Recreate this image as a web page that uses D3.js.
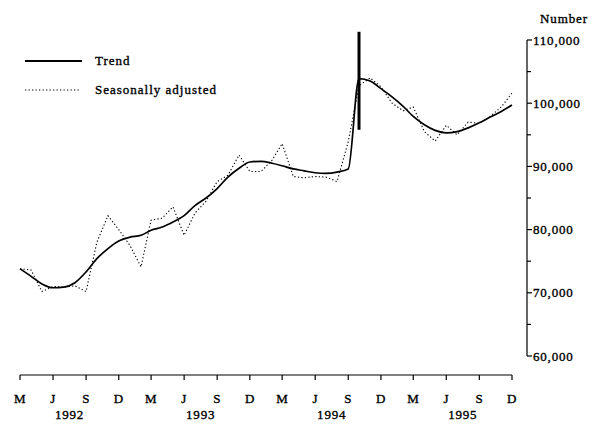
<!DOCTYPE html>
<html>
<head>
<meta charset="utf-8">
<script src="https://cdn.jsdelivr.net/npm/d3@7"></script>
<style>
  html, body { margin: 0; padding: 0; background: #fff; }
  svg { display: block; }
  text { font-family: "Liberation Serif", "Times New Roman", serif; fill: #000; stroke: #000; stroke-width: 0.35px; }
</style>
</head>
<body>
<svg id="chart" width="601" height="424"></svg>
<script>
// Monthly series, March 1992 to December 1995
const firstMonth = new Date(1992, 2, 1);
const trend = [
  73.8, 72.6, 71.4, 70.8, 70.9, 71.6, 73.3, 75.4, 77.0, 78.2,
  78.8, 79.1, 79.9, 80.4, 81.2, 82.2, 83.8, 85.0, 86.5, 88.3, 89.7, 90.7,
  90.8, 90.5, 90.1, 89.6, 89.3, 89.0, 88.9, 89.1, 89.6, 103.9, 103.5, 102.3,
  101.0, 99.5, 97.9, 96.6, 95.7, 95.3, 95.5, 96.1, 96.9, 97.8, 98.7, 99.7
].map(v => v * 1000);
const seasonallyAdjusted = [
  73.8, 73.6, 70.2, 71.0, 70.9, 71.1, 70.2, 78.0, 82.2, 80.0,
  77.5, 74.1, 81.5, 81.8, 83.6, 79.1, 82.6, 84.5, 87.6, 88.6, 91.8, 89.2,
  89.2, 91.0, 93.6, 88.4, 88.2, 88.4, 88.3, 87.6, 93.9, 102.8, 104.0, 102.6,
  100.0, 98.8, 99.4, 95.5, 94.0, 96.5, 95.0, 97.0, 96.8, 97.9, 99.4, 101.6
].map(v => v * 1000);

// Axis labels
const quarterLabels = ["M", "J", "S", "D", "M", "J", "S", "D", "M", "J", "S", "D", "M", "J", "S", "D"];
const yearLabels = ["1992", "1993", "1994", "1995"];
const yMajorTicks = [60000, 70000, 80000, 90000, 100000, 110000];
const yMinorTicks = [65000, 75000, 85000, 95000, 105000];

// Break in the trend series (October 1994)
const seriesBreak = { month: new Date(1994, 9, 1), top: 111300, bottom: 95800 };

const months = trend.map((_, i) => d3.timeMonth.offset(firstMonth, i));
const trendData = months.map((m, i) => ({ m, v: trend[i] }));
const saData = months.map((m, i) => ({ m, v: seasonallyAdjusted[i] }));

const svg = d3.select("#chart");

const x = d3.scaleTime()
  .domain([firstMonth, new Date(1995, 11, 1)])
  .range([20, 512]);
const y = d3.scaleLinear()
  .domain([60000, 110000])
  .range([356, 40]);

const axisX = 527;
const baseY = 375;

// Bottom time axis
const quarterDates = quarterLabels.map((_, i) => d3.timeMonth.offset(firstMonth, i * 3));
const xAxis = svg.append("g").attr("transform", `translate(0,${baseY})`);
xAxis.append("line")
  .attr("x1", x(quarterDates[0])).attr("x2", x(quarterDates[quarterDates.length - 1]))
  .attr("stroke", "#000").attr("stroke-width", 1.2);
xAxis.selectAll("line.tick").data(quarterDates).join("line")
  .attr("class", "tick")
  .attr("x1", d => x(d)).attr("x2", d => x(d))
  .attr("y1", 0).attr("y2", 5)
  .attr("stroke", "#000").attr("stroke-width", 1.2);
xAxis.selectAll("text.month").data(quarterDates).join("text")
  .attr("class", "month")
  .attr("x", d => x(d)).attr("y", 28)
  .attr("text-anchor", "middle")
  .attr("font-size", 13)
  .attr("letter-spacing", 0.5)
  .text((d, i) => quarterLabels[i]);
xAxis.selectAll("text.year").data(yearLabels).join("text")
  .attr("class", "year")
  .attr("x", (d, i) => (x(new Date(+d, 5, 1)) + x(new Date(+d, 8, 1))) / 2)
  .attr("y", 44)
  .attr("text-anchor", "middle")
  .attr("font-size", 13)
  .attr("letter-spacing", 0.8)
  .text(d => d);

// Right value axis
const yAxis = svg.append("g");
yAxis.append("line")
  .attr("x1", axisX).attr("x2", axisX)
  .attr("y1", y(110000)).attr("y2", y(60000))
  .attr("stroke", "#000").attr("stroke-width", 1.2);
yAxis.selectAll("line.major").data(yMajorTicks).join("line")
  .attr("class", "major")
  .attr("x1", axisX).attr("x2", axisX + 5)
  .attr("y1", d => y(d)).attr("y2", d => y(d))
  .attr("stroke", "#000").attr("stroke-width", 1.2);
yAxis.selectAll("line.minor").data(yMinorTicks).join("line")
  .attr("class", "minor")
  .attr("x1", axisX).attr("x2", axisX + 4)
  .attr("y1", d => y(d)).attr("y2", d => y(d))
  .attr("stroke", "#000").attr("stroke-width", 1.2);
yAxis.selectAll("text").data(yMajorTicks).join("text")
  .attr("x", axisX + 6).attr("y", d => y(d) + 4.5)
  .attr("font-size", 13)
  .attr("letter-spacing", 0.8)
  .text(d => d3.format(",")(d));
svg.append("text")
  .attr("x", 540).attr("y", 23)
  .attr("font-size", 13)
  .attr("letter-spacing", 0.9)
  .text("Number");

// Series lines
const trendLine = d3.line().x(d => x(d.m)).y(d => y(d.v)).curve(d3.curveMonotoneX);
const saLine = d3.line().x(d => x(d.m)).y(d => y(d.v));

svg.append("path")
  .datum(saData)
  .attr("d", saLine)
  .attr("fill", "none")
  .attr("stroke", "#000")
  .attr("stroke-width", 1.1)
  .attr("stroke-dasharray", "1.3,2.2");

svg.append("path")
  .datum(trendData)
  .attr("d", trendLine)
  .attr("fill", "none")
  .attr("stroke", "#000")
  .attr("stroke-width", 1.7);

// Break marker
svg.append("line")
  .attr("x1", x(seriesBreak.month)).attr("x2", x(seriesBreak.month))
  .attr("y1", y(seriesBreak.top)).attr("y2", y(seriesBreak.bottom))
  .attr("stroke", "#000").attr("stroke-width", 3);

// Legend
const legend = svg.append("g");
legend.append("line")
  .attr("x1", 25).attr("x2", 82).attr("y1", 61).attr("y2", 61)
  .attr("stroke", "#000").attr("stroke-width", 2);
legend.append("text")
  .attr("x", 95).attr("y", 65)
  .attr("font-size", 13).attr("letter-spacing", 1)
  .text("Trend");
legend.append("line")
  .attr("x1", 25).attr("x2", 80).attr("y1", 90).attr("y2", 90)
  .attr("stroke", "#000").attr("stroke-width", 1)
  .attr("stroke-dasharray", "1.3,2.2");
legend.append("text")
  .attr("x", 95).attr("y", 94)
  .attr("font-size", 13).attr("letter-spacing", 1)
  .text("Seasonally adjusted");
</script>
</body>
</html>
